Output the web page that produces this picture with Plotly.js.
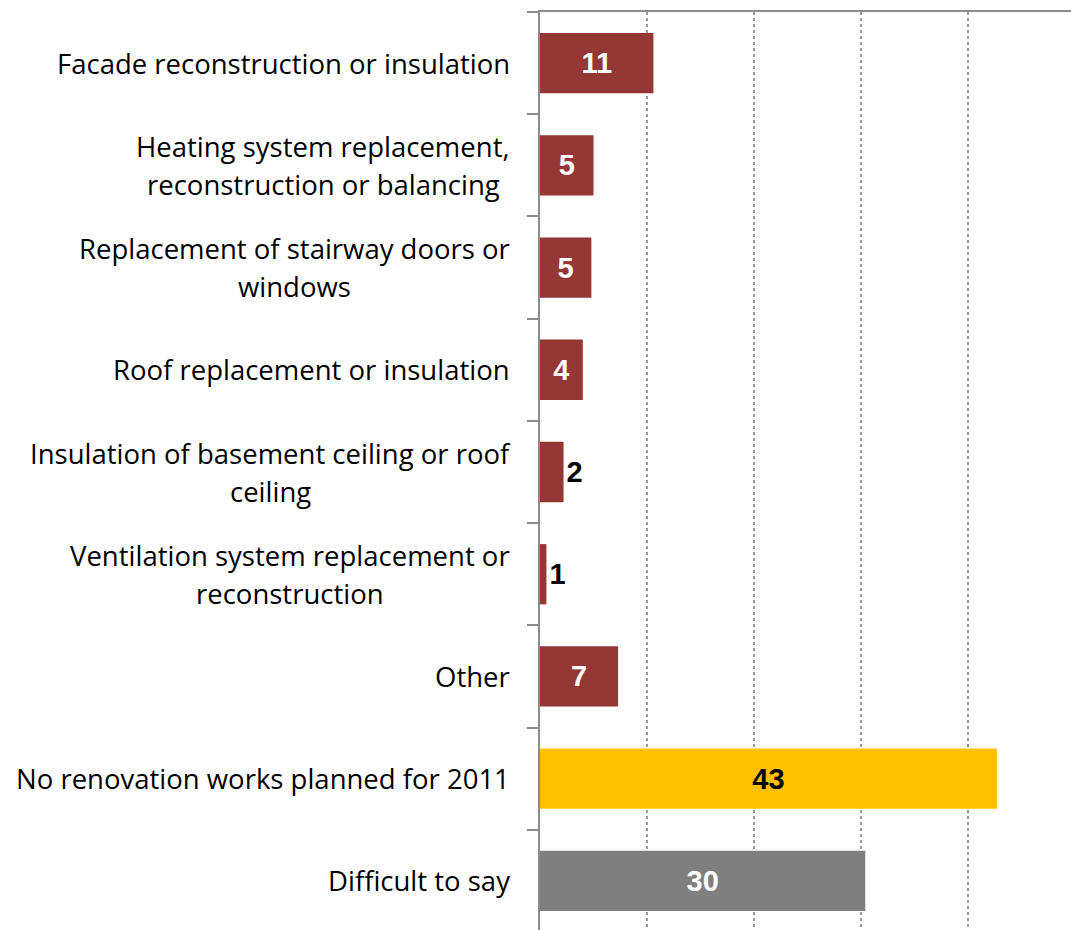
<!DOCTYPE html>
<html>
<head>
<meta charset="utf-8">
<script src="https://cdn.plot.ly/plotly-3.0.1.min.js"></script>
<style>html,body{margin:0;padding:0;overflow:hidden;background:#fff;}</style>
</head>
<body>
<div id="chart"></div>
<script>
const categories = [
  "Facade reconstruction or insulation",
  "Heating system replacement,<br>reconstruction or balancing",
  "Replacement of stairway doors or<br>windows",
  "Roof replacement or insulation",
  "Insulation of basement ceiling or roof<br>ceiling",
  "Ventilation system replacement or<br>reconstruction",
  "Other",
  "No renovation works planned for 2011",
  "Difficult to say"
];
const values = [10.6, 5.0, 4.8, 4.0, 2.2, 0.6, 7.3, 42.7, 30.4];
const valueLabels = ["11", "5", "5", "4", "2", "1", "7", "43", "30"];
const barColors = ["#953735", "#953735", "#953735", "#953735", "#953735", "#953735", "#953735", "#FFC000", "#7F7F7F"];
const labelPositions = ["inside", "inside", "inside", "inside", "outside", "outside", "inside", "inside", "inside"];
const labelColors = ["#FFFFFF", "#FFFFFF", "#FFFFFF", "#FFFFFF", "#000000", "#000000", "#FFFFFF", "#000000", "#FFFFFF"];

const catFont = {family: "Open Sans", size: 27.5, color: "#000000"};

const trace = {
  type: "bar",
  orientation: "h",
  x: values,
  y: categories,
  marker: {color: barColors, line: {width: 0}},
  text: valueLabels,
  textposition: labelPositions,
  insidetextanchor: "middle",
  constraintext: "none",
  cliponaxis: false,
  textfont: {family: "Liberation Sans, Arial, sans-serif", size: 29, color: labelColors, weight: "bold"},
  hoverinfo: "none"
};

const ctx = document.createElement("canvas").getContext("2d");
ctx.font = catFont.size + "px '" + catFont.family + "'";

const annotations = [];
const lineGap = 38;
const gapToAxis = 30;
categories.forEach(function (cat) {
  const lines = cat.split("<br>");
  const n = lines.length;
  const maxW = Math.max.apply(null, lines.map(function (l) { return ctx.measureText(l).width; }));
  lines.forEach(function (ln, i) {
    annotations.push({
      xref: "paper", x: 0, xanchor: "center", xshift: -gapToAxis - maxW / 2,
      yref: "y", y: cat, yanchor: "middle",
      yshift: ((n - 1) / 2 - i) * lineGap,
      text: ln, showarrow: false, align: "center",
      font: catFont
    });
  });
});

const layout = {
  width: 1075,
  height: 932,
  margin: {l: 540, r: 0, t: 12, b: 0},
  paper_bgcolor: "#FFFFFF",
  plot_bgcolor: "#FFFFFF",
  showlegend: false,
  bargap: 0.41,
  xaxis: {
    range: [0, 50],
    side: "top",
    showticklabels: false,
    ticks: "",
    showgrid: true,
    dtick: 10,
    tick0: 0,
    gridcolor: "#9A9A9A",
    gridwidth: 2,
    griddash: "dot",
    zeroline: false,
    showline: true,
    linecolor: "#8C8C8C",
    linewidth: 2
  },
  yaxis: {
    type: "category",
    autorange: "reversed",
    showticklabels: false,
    ticks: "outside",
    tickson: "boundaries",
    ticklen: 11,
    tickwidth: 2,
    tickcolor: "#8C8C8C",
    showgrid: false,
    zeroline: false,
    showline: true,
    linecolor: "#8C8C8C",
    linewidth: 2
  },
  annotations: annotations
};

Plotly.newPlot("chart", [trace], layout, {displayModeBar: false, staticPlot: true});
</script>
</body>
</html>
